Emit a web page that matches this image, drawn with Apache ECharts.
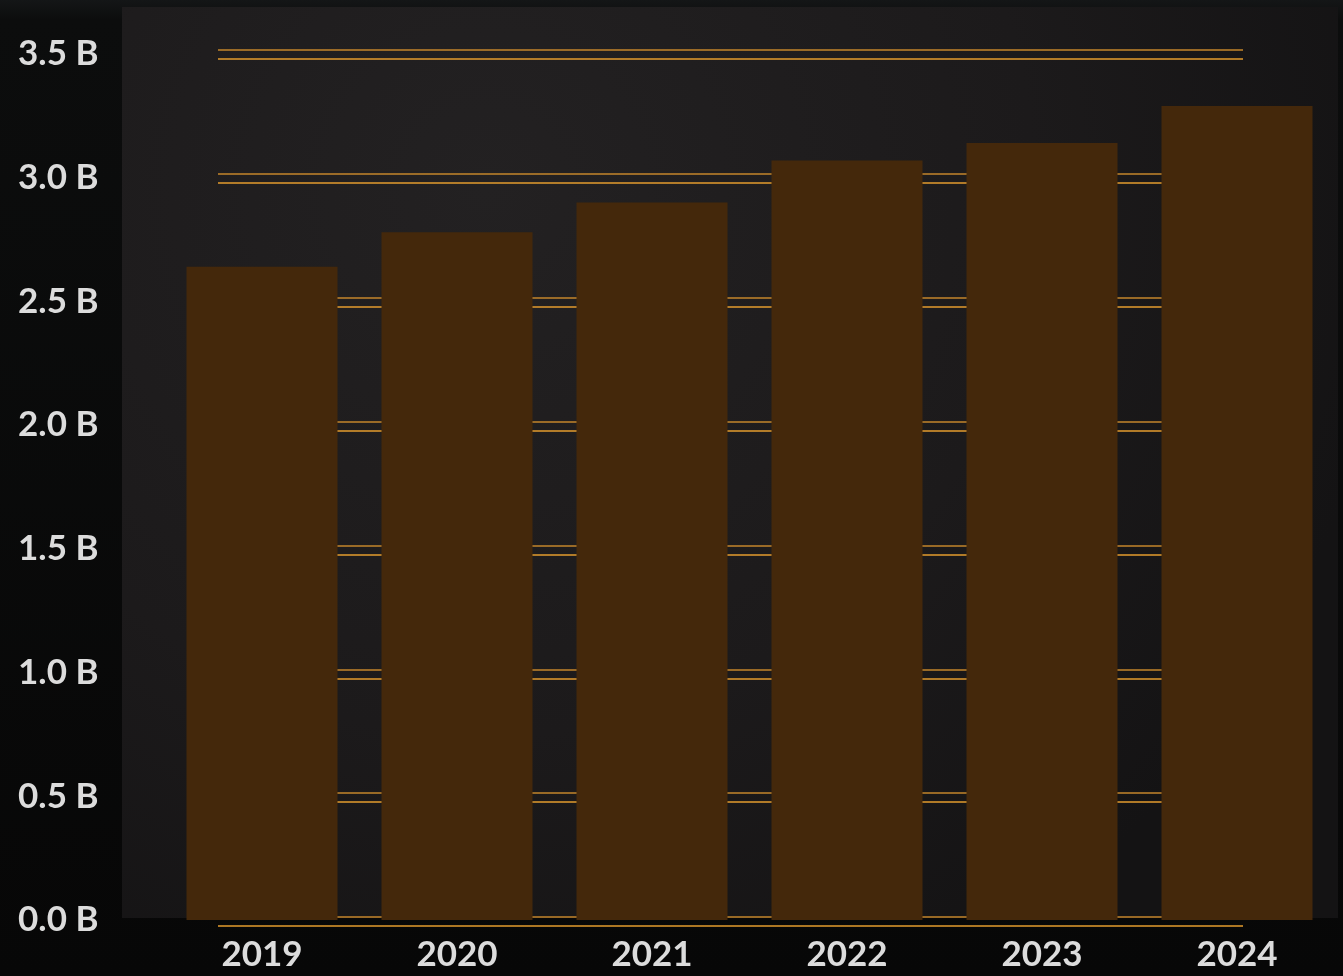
<!DOCTYPE html>
<html>
<head>
<meta charset="utf-8">
<title>Bars 2019-2024</title>
<script src="https://cdn.jsdelivr.net/npm/echarts@6/dist/echarts.min.js"></script>
<style>
  html, body { margin: 0; padding: 0; background: #0b0b0b; }
  #chart { width: 1343px; height: 976px; }
</style>
</head>
<body>
<div id="chart"></div>
<script>
// values, in billions
const years = ['2019', '2020', '2021', '2022', '2023', '2024'];
const values = [2.64, 2.78, 2.90, 3.07, 3.14, 3.29];
const yTicks = [0, 0.5, 1, 1.5, 2, 2.5, 3, 3.5];

const barColor = '#44280b';
const lineDark = '#c4862b';
const lineLight = '#e49c2e';
const labelColor = '#dcdcdc';
const labelFont = 'Lato, "Open Sans", sans-serif';

const chart = echarts.init(document.getElementById('chart'));

// value axis of a gridline-only grid
function lineAxis(gridIndex, color) {
  return {
    type: 'value',
    gridIndex: gridIndex,
    min: 0,
    max: yTicks[yTicks.length - 1],
    interval: 0.5,
    axisLine: { show: false },
    axisTick: { show: false },
    axisLabel: { show: false },
    splitLine: { show: true, lineStyle: { color: color, width: 1.5 } }
  };
}

function hiddenX(gridIndex) {
  return {
    type: 'category',
    gridIndex: gridIndex,
    data: years,
    show: false
  };
}

const option = {
  backgroundColor: {
    type: 'linear', x: 0, y: 0, x2: 0, y2: 1,
    colorStops: [
      { offset: 0, color: '#141617' },
      { offset: 0.02, color: '#0c0d0d' },
      { offset: 1, color: '#070707' }
    ]
  },
  animation: false,
  grid: [
    // bars
    { left: 164.5, top: 54, width: 1170, height: 866 },
    // upper line of each double gridline
    { left: 218, top: 50, width: 1025, height: 867 },
    // lower line of each double gridline
    { left: 218, top: 59, width: 1025, height: 867 },
    // lighter panel behind the plot
    {
      left: 122, top: 7, width: 1216, height: 911, show: true, borderWidth: 0, z: -1,
      backgroundColor: {
        type: 'radial', x: 0.3, y: 0.2, r: 1,
        colorStops: [
          { offset: 0, color: '#232122' },
          { offset: 0.6, color: '#1c1a1b' },
          { offset: 1, color: '#141314' }
        ]
      }
    }
  ],
  xAxis: [
    {
      type: 'category',
      gridIndex: 0,
      data: years,
      axisLine: { show: false },
      axisTick: { show: false },
      axisLabel: {
        color: labelColor,
        fontFamily: labelFont,
        fontWeight: 'bold',
        fontSize: 35,
        margin: 17
      }
    },
    hiddenX(1),
    hiddenX(2),
    hiddenX(3)
  ],
  yAxis: [
    {
      type: 'value',
      gridIndex: 0,
      min: 0,
      max: yTicks[yTicks.length - 1],
      interval: 0.5,
      axisLine: { show: false },
      axisTick: { show: false },
      splitLine: { show: false },
      axisLabel: {
        color: labelColor,
        fontFamily: labelFont,
        fontWeight: 'bold',
        fontSize: 35,
        margin: 66,
        formatter: v => v.toFixed(1) + ' B'
      }
    },
    lineAxis(1, lineDark),
    lineAxis(2, lineLight),
    { type: 'value', gridIndex: 3, show: false }
  ],
  series: [
    {
      type: 'bar',
      xAxisIndex: 0,
      yAxisIndex: 0,
      data: values,
      barWidth: 151,
      itemStyle: { color: barColor },
      z: 5
    }
  ]
};

chart.setOption(option);
</script>
</body>
</html>
